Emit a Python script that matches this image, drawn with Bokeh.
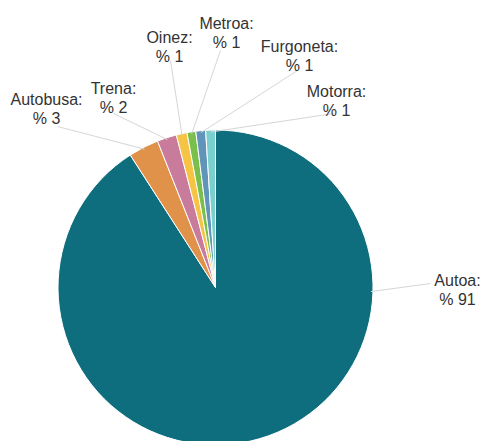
import math
from bokeh.plotting import figure
from bokeh.models import Range1d, ColumnDataSource
from bokeh.core.properties import value
from bokeh.embed import file_html
from bokeh.resources import INLINE

# ---- data ----
categories = ["Autoa", "Autobusa", "Trena", "Oinez", "Metroa", "Furgoneta", "Motorra"]
shares = [90.9, 3.1, 2.0, 1.1, 0.9, 1.0, 1.0]
colors = ["#0f6e7e", "#e0924a", "#c97b9b", "#f6c444", "#79bf4b", "#6094b8", "#7ad0ce"]

# ---- layout (screen px) ----
CX, CY, R = 215, 287, 157.5
# label text centre x, first-line baseline y, connector end at label (x, y)
label_layout = {
    "Autoa":     (457, 280, (430, 283)),
    "Autobusa":  (46, 99, (57, 126)),
    "Trena":     (113, 88, (113, 113)),
    "Oinez":     (169, 37, (170, 60)),
    "Metroa":    (226, 23, (220, 50)),
    "Furgoneta": (299, 46, (297, 70)),
    "Motorra":   (336, 91, (333, 113)),
}
# connector start angle overrides (degrees clockwise from top)
anchor_override = {"Autoa": 91.5}
LINE_GAP = 18.5
FONT = value("Liberation Sans")

W, H = 480, 441
p = figure(width=W, height=H, output_backend="svg", toolbar_location=None,
           x_range=Range1d(0, W), y_range=Range1d(-H, 0),
           min_border=0, x_axis_location=None, y_axis_location=None)
p.grid.visible = False
p.outline_line_color = None
p.background_fill_color = "white"
p.border_fill_color = "white"

total = sum(shares)
starts, ends, mids = [], [], []
cum = 0.0
for v in shares:
    a0 = cum / total * 360.0
    cum += v
    a1 = cum / total * 360.0
    starts.append(math.radians(90 - a0))
    ends.append(math.radians(90 - a1))
    mids.append((a0 + a1) / 2)

src = ColumnDataSource(dict(x=[CX] * len(shares), y=[-CY] * len(shares),
                            start=starts, end=ends, color=colors))
p.wedge(x="x", y="y", radius=R, start_angle="start", end_angle="end",
        direction="clock", fill_color="color", line_color="white",
        line_width=1, source=src)

xs, ys = [], []
for cat, m in zip(categories, mids):
    a = anchor_override.get(cat, m)
    sx = CX + (R - 2) * math.sin(math.radians(a))
    sy = CY - (R - 2) * math.cos(math.radians(a))
    ex, ey = label_layout[cat][2]
    xs.append([sx, ex])
    ys.append([-sy, -ey])
p.multi_line(xs=xs, ys=ys, line_color="#d6d6d6", line_width=1)

tx, ty1, ty2, t1, t2 = [], [], [], [], []
for cat, v in zip(categories, shares):
    lx, ly, _ = label_layout[cat]
    tx.append(lx)
    ty1.append(-ly)
    ty2.append(-(ly + LINE_GAP))
    t1.append(cat + ":")
    t2.append("% " + str(int(round(v))))

p.text(x=tx, y=ty1, text=t1, text_align="center", text_baseline="alphabetic",
       text_font=FONT, text_font_size="16px", text_color="#333333")
p.text(x=tx, y=ty2, text=t2, text_align="center", text_baseline="alphabetic",
       text_font=FONT, text_font_size="16px", text_color="#333333")

open("out.html", "w").write(file_html(p, INLINE))
